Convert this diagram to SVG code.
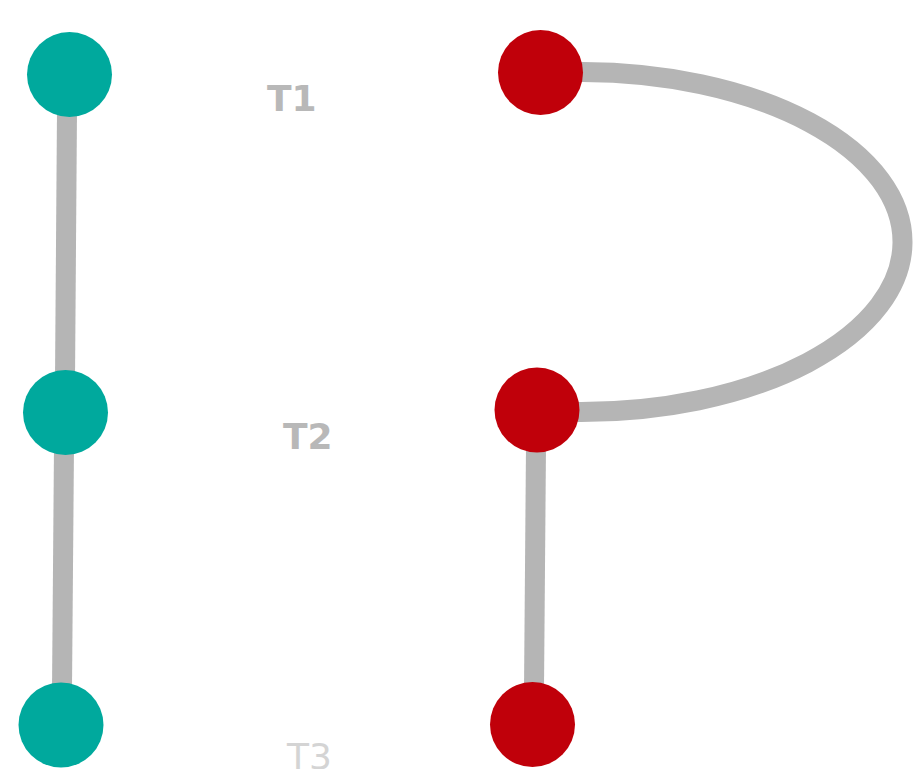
<svg xmlns="http://www.w3.org/2000/svg" width="913" height="769" viewBox="0 0 913 769">
<style>
.e{stroke:#b5b5b5;stroke-width:20;fill:none}
.t{fill:#00a99d}
.r{fill:#c0000a}
.lb{font-family:"DejaVu Sans",Verdana,sans-serif;font-size:36px;font-weight:bold;fill:#b8b8b8}
.ln{font-family:"DejaVu Sans",Verdana,sans-serif;font-size:36px;fill:#d4d4d4}
</style>
<rect width="913" height="769" fill="#fff"/>
<g id="connectors">
<line class="e" x1="67" y1="110" x2="65" y2="380"/>
<line class="e" x1="64" y1="445" x2="62" y2="690"/>
<line class="e" x1="536" y1="445" x2="534" y2="690"/>
<path class="e" d="M 560 72 L 583 72 A 321 170 0 0 1 580 412 L 560 412"/>
</g>
<g id="n1"><circle class="t" cx="69.5" cy="74.5" r="42.5"/></g>
<g id="n2"><circle class="t" cx="65.5" cy="412.5" r="42.5"/></g>
<g id="n3"><circle class="t" cx="61" cy="725" r="42.5"/></g>
<g id="r1"><circle class="r" cx="540.5" cy="72.5" r="42.5"/></g>
<g id="r2"><circle class="r" cx="537" cy="410" r="42.5"/></g>
<g id="r3"><circle class="r" cx="532.5" cy="724.5" r="42.5"/></g>
<g id="labels">
<text class="lb" x="267" y="111">T1</text>
<text class="lb" x="283" y="449">T2</text>
<text class="ln" x="287" y="769">T3</text>
</g>
</svg>
